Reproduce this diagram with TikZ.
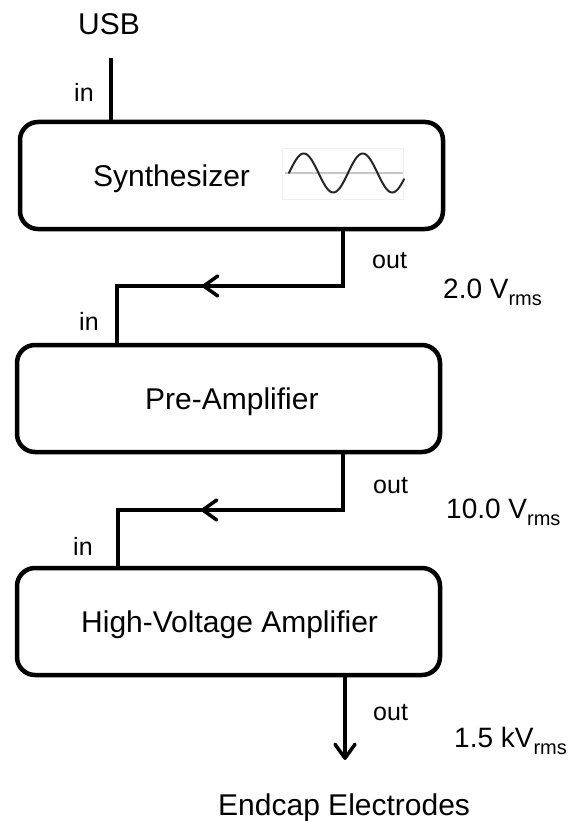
\documentclass[tikz,border=0pt]{standalone}
\usepackage{fontspec}
\setmainfont{Liberation Sans}
\usetikzlibrary{arrows.meta}
\begin{document}
\begin{tikzpicture}[x=1pt,y=-1pt,
  box/.style={draw, line width=4.5pt, rounded corners=18pt, minimum width=423pt, minimum height=107pt, inner sep=0pt},
  conn/.style={line width=3.5pt},
  barb/.style={-{Straight Barb[length=14pt,width=20pt,round]}},
  big/.style={font=\fontsize{30}{36}\selectfont, anchor=base west, inner sep=0pt},
  small/.style={font=\fontsize{25}{30}\selectfont, anchor=base west, inner sep=0pt},
  volt/.style={font=\fontsize{28}{34}\selectfont, anchor=base west, inner sep=0pt}]
\useasboundingbox (0,0) rectangle (576,821);

% boxes
\node[box] (synth) at (231.5,175.5) {};
\node[box] (pre) at (228.5,398.5) {};
\node[box] (hv) at (228.5,621.5) {};

% box labels
\node[big] (synthlbl) at (93,186) {Synthesizer};
\node[big] (prelbl) at (145,409) {Pre-Amplifier};
\node[big] (hvlbl) at (81,632) {High-Voltage Amplifier};

% sine icon
\draw[black!6, line width=0.8pt] (282,148) rectangle (403,199);
\draw[black!22, line width=1.4pt] (285,173) -- (403,173);
\draw[black!85, line width=2pt, line cap=round] plot[domain=0:115, samples=140] ({289+\x},{173-19.5*sin(\x*6.10169)});

% USB input
\node[big] (usb) at (78,35) {USB};
\coordinate (usbtop) at (111,58);
\draw[conn] (usbtop) -- (usbtop |- synth.north);
\node[small] (in1) at (74,102) {in};

% synth -> pre
\coordinate (s1) at (343,286);
\coordinate (s2) at (117,286);
\coordinate (a1) at (202,286);
\draw[conn] (s1 |- synth.south) -- (s1) -- (s2) -- (s2 |- pre.north);
\draw[conn,barb] (s1) -- (a1);
\node[small] (out1) at (372,268) {out};
\node[small] (in2) at (79,330) {in};
\node[volt] (v1) at (443,298) {2.0 V\raisebox{-7pt}{\fontsize{20}{24}\selectfont rms}};

% pre -> hv
\coordinate (p1) at (343,510);
\coordinate (p2) at (118,510);
\coordinate (a2) at (201,510);
\draw[conn] (p1 |- pre.south) -- (p1) -- (p2) -- (p2 |- hv.north);
\draw[conn,barb] (p1) -- (a2);
\node[small] (out2) at (373,493) {out};
\node[small] (in3) at (73,555) {in};
\node[volt] (v2) at (446,518) {10.0 V\raisebox{-7pt}{\fontsize{20}{24}\selectfont rms}};

% hv -> electrodes
\coordinate (h1) at (345,760);
\draw[conn,barb] (h1 |- hv.south) -- (h1);
\node[small] (out3) at (373,720) {out};
\node[volt] (v3) at (454,747) {1.5 kV\raisebox{-7pt}{\fontsize{20}{24}\selectfont rms}};
\node[big] (endcap) at (218,815) {Endcap Electrodes};
\end{tikzpicture}
\end{document}
